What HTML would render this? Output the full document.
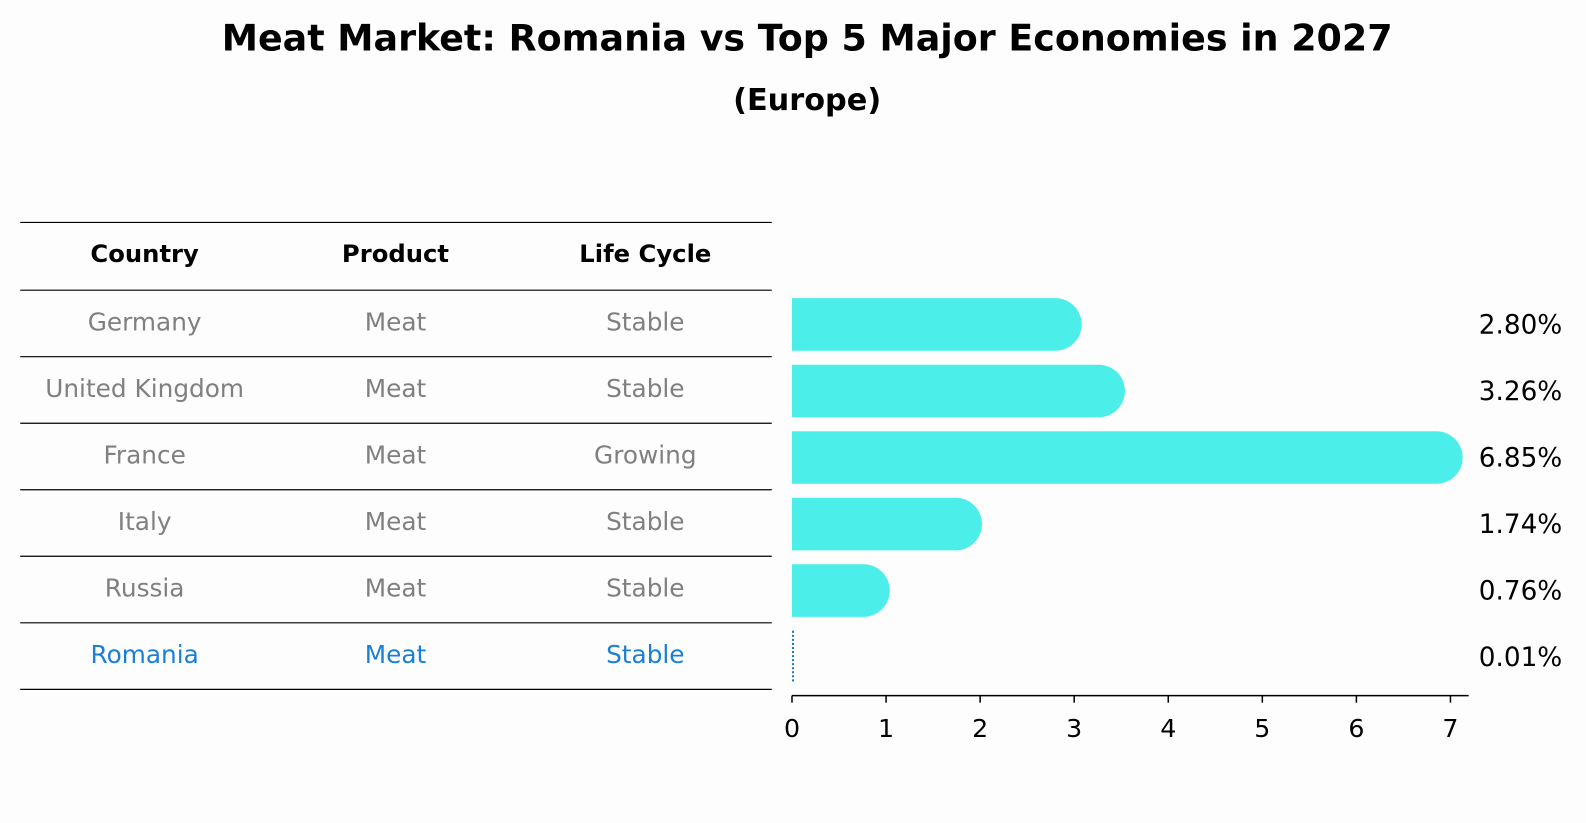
<!DOCTYPE html>
<html><head><meta charset="utf-8"><style>
body{margin:0;background:#fdfdfd;font-family:"Liberation Sans","DejaVu Sans",sans-serif}
</style></head><body>
<svg width="1586" height="823" viewBox="0 0 1568 814" preserveAspectRatio="none" xmlns="http://www.w3.org/2000/svg" font-family="DejaVu Sans, Liberation Sans, sans-serif" style="display:block">
<rect width="1568" height="814" fill="#fdfdfd"/>
<text x="798" y="50" text-anchor="middle" font-size="36" font-weight="bold">Meat Market: Romania vs Top 5 Major Economies in 2027</text>
<text x="798" y="109" text-anchor="middle" font-size="30" font-weight="bold">(Europe)</text>
<g id="table"></g>
<g id="bars"></g>
</svg>
<script>
const countries=["Germany","United Kingdom","France","Italy","Russia","Romania"];
const products=["Meat","Meat","Meat","Meat","Meat","Meat"];
const lifecycles=["Stable","Stable","Growing","Stable","Stable","Stable"];
const values=[2.80,3.26,6.85,1.74,0.76,0.01];
const xTicks=[0,1,2,3,4,5,6,7];
const NS="http://www.w3.org/2000/svg";
function mk(tag,attrs,parent,txt){const e=document.createElementNS(NS,tag);for(const k in attrs)e.setAttribute(k,attrs[k]);if(txt!==undefined)e.textContent=txt;parent.appendChild(e);return e;}
const tbl=document.getElementById('table'),bars=document.getElementById('bars');
const x0=783,pxPerUnit=93;
function xs(v){return x0+v*pxPerUnit;}
const rowTop=287,rowH=65.8,headerY=259;
const cols=[143,391,638];
for(let i=0;i<=countries.length+1;i++){
  const y=i==0?220:rowTop+(i-1)*rowH;
  const l=mk('line',{x1:20,x2:763,y1:y,y2:y,stroke:'#000','stroke-width':1.2},tbl);
  
  
}
["Country","Product","Life Cycle"].forEach((h,j)=>{
  const t=mk('text',{x:cols[j],y:headerY,'text-anchor':'middle','font-size':'24','font-weight':'bold'},tbl,h);
  
  
});
countries.forEach((c,i)=>{
  const cy=rowTop+(i+0.5)*rowH;
  const col=i==countries.length-1?'#1a7fd6':'#808080';
  [c,products[i],lifecycles[i]].forEach((s,j)=>{
    const t=mk('text',{x:cols[j],y:cy+7,'text-anchor':'middle','font-size':'24.5',fill:col},tbl,s);
    
    
  });
  const h=52,top=cy-h/2+1,w=xs(values[i])-x0;
  if(i==countries.length-1){
    const d=mk('line',{x1:x0+1,x2:x0+1,y1:top,y2:top+h,stroke:'#1f77b4','stroke-width':2,'stroke-dasharray':'2,2'},bars);
    
    
  } else {
    const p=mk('path',{d:`M${x0},${top}H${x0+w}A${h/2},${h/2} 0 0 1 ${x0+w},${top+h}H${x0}Z`,fill:'#4ceee9'},bars);
    
    
  }
  const lb=mk('text',{x:1462,y:cy+10,'font-size':'26'},bars,values[i].toFixed(2)+'%');
  
  
});
const ax=mk('line',{x1:x0,x2:1452,y1:688,y2:688,stroke:'#000','stroke-width':1.5},bars);


xTicks.forEach(t=>{
  const tk=mk('line',{x1:xs(t),x2:xs(t),y1:688,y2:695,stroke:'#000','stroke-width':1.5},bars);
  
  
  const tl=mk('text',{x:xs(t),y:729,'text-anchor':'middle','font-size':'25'},bars,String(t));
  
  
});
</script>
</body></html>
